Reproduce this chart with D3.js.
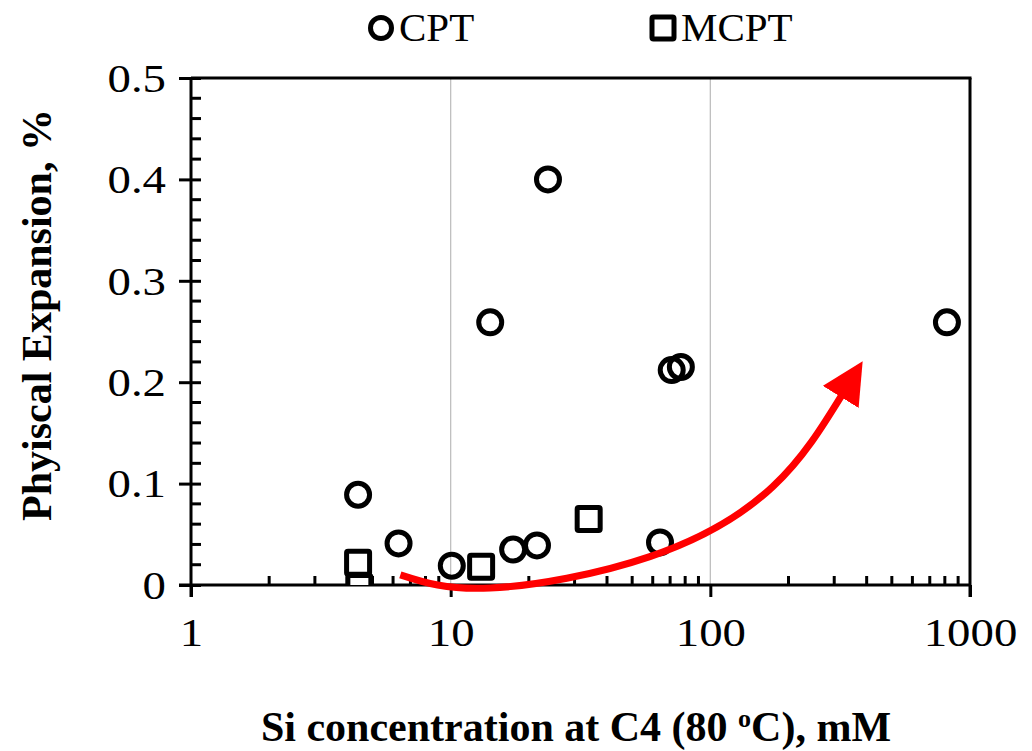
<!DOCTYPE html>
<html>
<head>
<meta charset="utf-8">
<script src="https://cdn.jsdelivr.net/npm/d3@7"></script>
<style>
  body { margin: 0; background: #fff; }
  text { font-family: "Liberation Serif", "Times New Roman", serif; fill: #000; }
</style>
</head>
<body>
<svg id="chart"></svg>
<script>
/* data */
var cptX = [4.4, 6.3, 10.1, 14.2, 17.4, 21.5, 23.7, 64, 71, 77, 815];
var cptY = [0.089, 0.041, 0.019, 0.259, 0.035, 0.039, 0.400, 0.042, 0.212, 0.215, 0.259];
var mcptX = [4.4, 4.45, 13.1, 34];
var mcptY = [0.022, -0.002, 0.018, 0.065];
var xTicks = [1, 10, 100, 1000];
var yTicks = [0, 0.1, 0.2, 0.3, 0.4, 0.5];
var arrowX = [6.4, 14.2, 58.5, 174, 324];
var arrowY = [0.010, -0.003, 0.028, 0.097, 0.189];
var legendNames = ["CPT", "MCPT"];

/* settings */
var width = 1032,
    height = 751,
    margin = { top: 78, bottom: 166, left: 191, right: 62 },
    innerWidth = width - margin.left - margin.right,
    innerHeight = height - margin.top - margin.bottom,
    tickFont = 39,
    tickStretch = 1.2,
    titleFont = 42;

var xScale = d3.scaleLog().domain([1, 1000]).range([0, innerWidth]);
var yScale = d3.scaleLinear().domain([0, 0.5]).range([innerHeight, 0]);

var svg = d3.select("#chart")
    .attr("width", width)
    .attr("height", height);

var defs = svg.append("defs");
defs.append("clipPath")
    .attr("id", "plot-clip")
  .append("rect")
    .attr("x", 0).attr("y", -20)
    .attr("width", innerWidth + 20)
    .attr("height", innerHeight + 20);

var marker = defs.append("marker")
    .attr("id", "arrowhead")
    .attr("viewBox", "0 0 10 10")
    .attr("refX", 1).attr("refY", 5)
    .attr("markerUnits", "userSpaceOnUse")
    .attr("markerWidth", 42).attr("markerHeight", 42)
    .attr("orient", "auto");
marker.append("path")
    .attr("d", "M0,0 L10,5 L0,10 Z")
    .attr("fill", "#ff0000");

var g = svg.append("g")
    .attr("id", "plot")
    .attr("transform", "translate(" + margin.left + "," + margin.top + ")");

/* gridlines at 10 and 100 */
g.selectAll(".grid")
    .data([10, 100])
  .enter().append("line")
    .attr("class", "grid")
    .attr("x1", function(d) { return xScale(d); })
    .attr("x2", function(d) { return xScale(d); })
    .attr("y1", 0).attr("y2", innerHeight)
    .attr("stroke", "#bfbfbf")
    .attr("stroke-width", 1.3);

/* x-axis: minor ticks inside, major ticks outside */
var minorX = [];
[1, 10, 100].forEach(function(dec) {
    for (var k = 2; k < 10; k++) minorX.push(dec * k);
});

var xAxisG = g.append("g")
    .attr("class", "x-axis")
    .attr("transform", "translate(0," + innerHeight + ")");

xAxisG.call(d3.axisBottom(xScale).tickValues(xTicks).tickSize(12).tickSizeOuter(0)
        .tickFormat(d3.format("d")))
    .call(function(a) { a.select(".domain").remove(); });

xAxisG.selectAll(".tick line").attr("stroke", "#000").attr("stroke-width", 3);
xAxisG.selectAll(".tick text")
    .attr("y", 61)
    .attr("dy", 0)
    .attr("font-size", tickFont)
    .attr("transform", "scale(" + tickStretch + ",1)");

xAxisG.selectAll(".minor")
    .data(minorX)
  .enter().append("line")
    .attr("class", "minor")
    .attr("x1", function(d) { return xScale(d); })
    .attr("x2", function(d) { return xScale(d); })
    .attr("y1", 0).attr("y2", -9)
    .attr("stroke", "#000").attr("stroke-width", 3);

xAxisG.append("line")
    .attr("x1", -12).attr("x2", innerWidth)
    .attr("stroke", "#000").attr("stroke-width", 3);

/* y-axis: major ticks crossing, minor ticks inside */
var minorY = d3.range(0.02, 0.5, 0.02).filter(function(v) {
    return Math.abs(v * 10 - Math.round(v * 10)) > 0.01;
});

var yAxisG = g.append("g").attr("class", "y-axis");

yAxisG.call(d3.axisLeft(yScale).tickValues(yTicks).tickSize(12).tickSizeOuter(0)
        .tickFormat(function(d) { return d === 0 ? "0" : d3.format(".1f")(d); }))
    .call(function(a) { a.select(".domain").remove(); });

yAxisG.selectAll(".tick line")
    .attr("x1", 10)
    .attr("stroke", "#000").attr("stroke-width", 3);
yAxisG.selectAll(".tick text")
    .attr("x", -25 / tickStretch)
    .attr("dy", "0.34em")
    .attr("font-size", tickFont)
    .attr("transform", "scale(" + tickStretch + ",1)");

yAxisG.selectAll(".minor")
    .data(minorY)
  .enter().append("line")
    .attr("class", "minor")
    .attr("x1", 0).attr("x2", 10)
    .attr("y1", function(d) { return yScale(d); })
    .attr("y2", function(d) { return yScale(d); })
    .attr("stroke", "#000").attr("stroke-width", 3);

yAxisG.append("line")
    .attr("y1", 0).attr("y2", innerHeight + 12)
    .attr("stroke", "#000").attr("stroke-width", 3);

/* box: top and right */
g.append("line")
    .attr("x1", 0).attr("x2", innerWidth + 1.5)
    .attr("y1", 0).attr("y2", 0)
    .attr("stroke", "#000").attr("stroke-width", 3);
g.append("line")
    .attr("x1", innerWidth).attr("x2", innerWidth)
    .attr("y1", 0).attr("y2", innerHeight + 12)
    .attr("stroke", "#000").attr("stroke-width", 3);

/* points */
var pts = g.append("g").attr("clip-path", "url(#plot-clip)");

pts.selectAll(".mcpt")
    .data(d3.range(mcptX.length))
  .enter().append("rect")
    .attr("class", "mcpt")
    .attr("x", function(i) { return xScale(mcptX[i]) - 11.5; })
    .attr("y", function(i) { return yScale(mcptY[i]) - 11.5; })
    .attr("width", 23).attr("height", 23)
    .attr("rx", 1.5)
    .attr("fill", "#fff")
    .attr("stroke", "#000").attr("stroke-width", 5);

pts.selectAll(".cpt")
    .data(d3.range(cptX.length))
  .enter().append("circle")
    .attr("class", "cpt")
    .attr("cx", function(i) { return xScale(cptX[i]); })
    .attr("cy", function(i) { return yScale(cptY[i]); })
    .attr("r", 11.5)
    .attr("fill", "none")
    .attr("stroke", "#000").attr("stroke-width", 5);

/* red arrow */
var arrowLine = d3.line()
    .x(function(i) { return xScale(arrowX[i]); })
    .y(function(i) { return yScale(arrowY[i]); })
    .curve(d3.curveNatural);

g.append("path")
    .datum(d3.range(arrowX.length))
    .attr("d", arrowLine)
    .attr("fill", "none")
    .attr("stroke", "#ff0000")
    .attr("stroke-width", 7)
    .attr("marker-end", "url(#arrowhead)");

/* legend */
var legend = svg.append("g").attr("class", "legend");
legend.append("circle")
    .attr("cx", 381).attr("cy", 28).attr("r", 10.5)
    .attr("fill", "none").attr("stroke", "#000").attr("stroke-width", 5);
legend.append("rect")
    .attr("x", 652).attr("y", 17).attr("width", 22).attr("height", 22)
    .attr("rx", 1.5)
    .attr("fill", "none").attr("stroke", "#000").attr("stroke-width", 5);
legend.selectAll("text")
    .data(legendNames)
  .enter().append("text")
    .attr("x", function(d, i) { return i === 0 ? 399 : 681; })
    .attr("y", 41)
    .attr("font-size", 41)
    .text(function(d) { return d; });

/* axis titles */
var xTitle = svg.append("text")
    .attr("x", 576).attr("y", 741)
    .attr("text-anchor", "middle")
    .attr("font-size", titleFont)
    .attr("font-weight", "bold");
xTitle.append("tspan").text("Si concentration  at C4 (80 ");
xTitle.append("tspan").attr("baseline-shift", "super").attr("font-size", 26).text("o");
xTitle.append("tspan").text("C), mM");

svg.append("text")
    .attr("transform", "translate(51,315) rotate(-90)")
    .attr("text-anchor", "middle")
    .attr("font-size", titleFont)
    .attr("font-weight", "bold")
    .text("Phyiscal Expansion,  %");
</script>
</body>
</html>
